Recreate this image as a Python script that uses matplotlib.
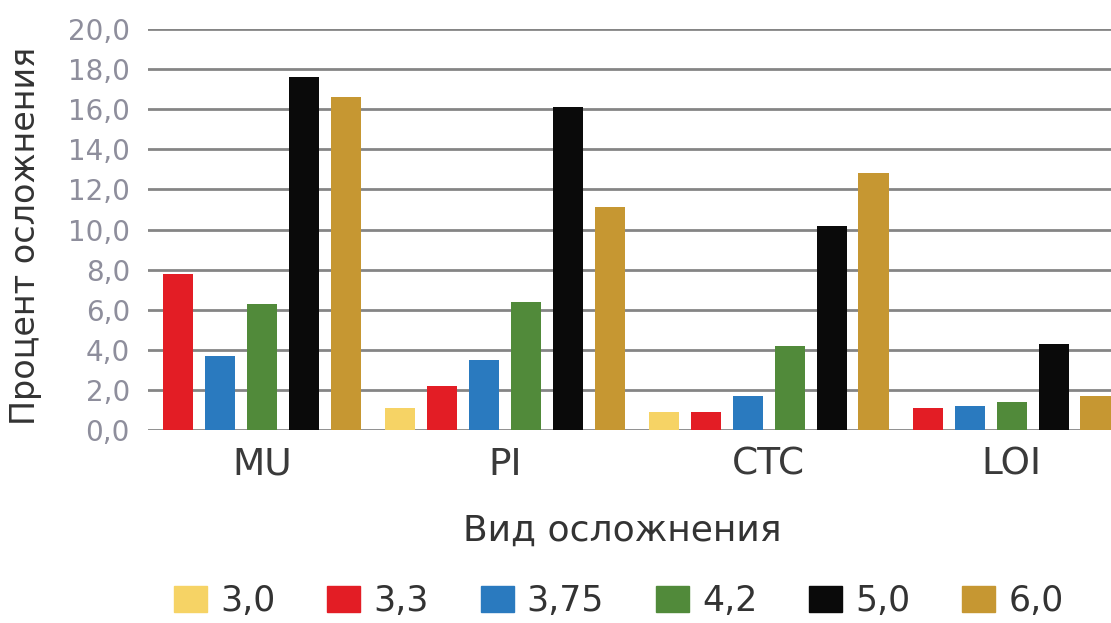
import matplotlib.pyplot as plt
import matplotlib as mpl
from matplotlib.patches import Patch

mpl.rcParams["font.family"] = ["DejaVu Sans"]

categories = ["MU", "PI", "CTC", "LOI"]
series = ["3,0", "3,3", "3,75", "4,2", "5,0", "6,0"]
colors = ["#f6d365", "#e31d25", "#2a7abf", "#518a3a", "#0a0a0a", "#c69732"]

# values per series, one entry per category (None = no bar)
v_30 = [None, 1.1, 0.9, None]
v_33 = [7.8, 2.2, 0.9, 1.1]
v_375 = [3.7, 3.5, 1.7, 1.2]
v_42 = [6.3, 6.4, 4.2, 1.4]
v_50 = [17.6, 16.1, 10.2, 4.3]
v_60 = [16.6, 11.1, 12.8, 1.7]
values = [v_30, v_33, v_375, v_42, v_50, v_60]

y_ticks = [0, 2, 4, 6, 8, 10, 12, 14, 16, 18, 20]

fig = plt.figure(figsize=(11.11, 6.23), dpi=100)
ax = fig.add_axes([0.1332, 0.3098, 0.8668, 0.6436])

# lay out bars slot by slot, skipping empty ones, with a gap between groups
gap = 0.3
w = 0.72
pos = 0.0
centers = []
first_x, last_x = None, None
for ci, cat in enumerate(categories):
    xs = []
    for si in range(len(series)):
        v = values[si][ci]
        if v is None:
            continue
        ax.bar(pos, v, w, color=colors[si], zorder=3)
        xs.append(pos)
        pos += 1
    centers.append(sum(xs) / len(xs))
    if first_x is None:
        first_x = xs[0]
    last_x = xs[-1]
    pos += gap

ax.set_xlim(first_x - 0.72, last_x + 0.37)
ax.set_ylim(0, 20)
ax.set_yticks(y_ticks)
ax.set_yticklabels([f"{t:.1f}".replace(".", ",") for t in y_ticks],
                   fontsize=20, color="#8e8e9c")
ax.set_xticks(centers)
ax.set_xticklabels(categories, fontsize=27, color="#3a3a3a")
ax.tick_params(axis="y", length=0, pad=13)
ax.tick_params(axis="x", length=0, pad=12)
ax.grid(axis="y", color="#858585", linewidth=2.0, zorder=0)
ax.set_axisbelow(True)
for s in ax.spines.values():
    s.set_visible(False)

fig.text(0.023, 0.621, "Процент осложнения", rotation=90, ha="center",
         va="center", fontsize=24, color="#333333")
fig.text(0.56, 0.1316, "Вид осложнения", ha="center", va="baseline",
         fontsize=26, color="#333333")

handles = [Patch(color=c, label=s) for c, s in zip(colors, series)]
fig.legend(handles=handles, loc="center", bbox_to_anchor=(0.557, 0.035),
           ncol=6, frameon=False, fontsize=25, handlelength=0.95,
           handleheight=0.75, handletextpad=0.37, columnspacing=1.5,
           labelcolor="#333333", borderpad=0)

fig.savefig("out.png", dpi=100, facecolor="white")
